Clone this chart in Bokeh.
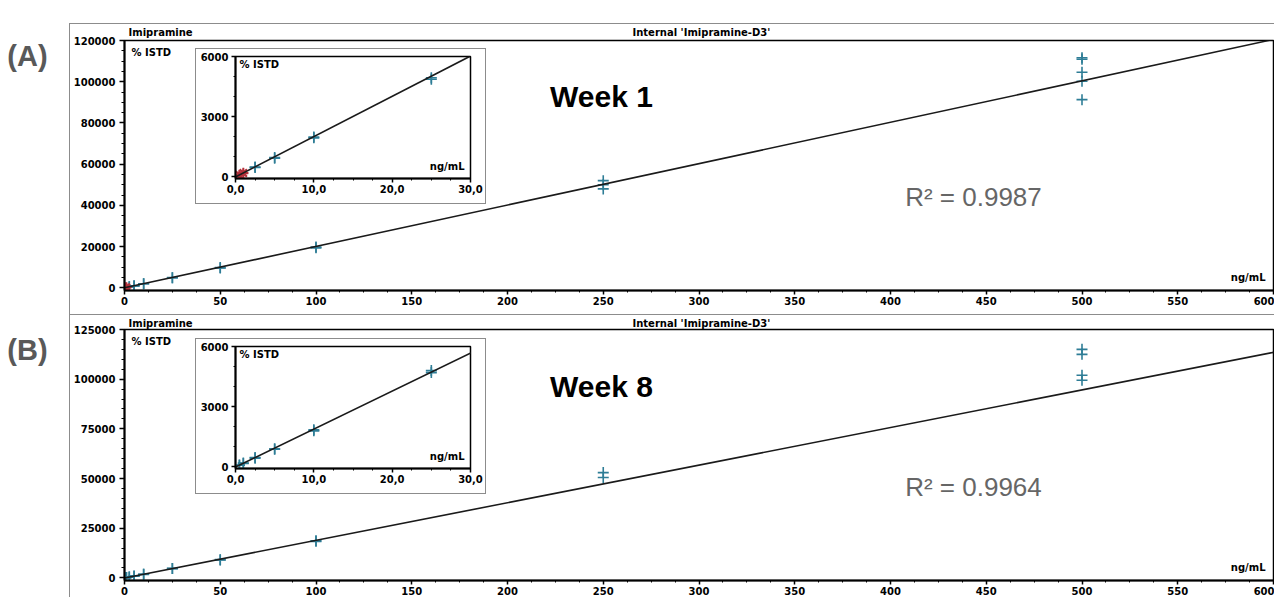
from bokeh.plotting import figure
from bokeh.models import Range1d, FixedTicker, Label
from bokeh.embed import file_html
from bokeh.resources import INLINE

# ---------------- data ----------------
analyte = "Imipramine"
internal_std = "Internal 'Imipramine-D3'"
y_title = "% ISTD"
x_unit = "ng/mL"
panel_tags = ["(A)", "(B)"]
week_names = ["Week 1", "Week 8"]
r2_texts = ["R\u00b2 = 0.9987", "R\u00b2 = 0.9964"]

x_ticks = [0, 50, 100, 150, 200, 250, 300, 350, 400, 450, 500, 550, 600]
x_tick_labels = ["0", "50", "100", "150", "200", "250", "300", "350", "400", "450", "500", "550", "600"]
w1_y_ticks = [0, 20000, 40000, 60000, 80000, 100000, 120000]
w1_y_tick_labels = ["0", "20000", "40000", "60000", "80000", "100000", "120000"]
w8_y_ticks = [0, 25000, 50000, 75000, 100000, 125000]
w8_y_tick_labels = ["0", "25000", "50000", "75000", "100000", "125000"]
inset_x_ticks = [0, 10, 20, 30]
inset_x_tick_labels = ["0,0", "10,0", "20,0", "30,0"]
inset_y_ticks = [0, 3000, 6000]
inset_y_tick_labels = ["0", "3000", "6000"]

# Week 1 calibration standards (accepted = blue, flagged = red)
w1_conc = [2.5, 2.5, 5, 5, 10, 10, 25, 25, 50, 50, 100, 100,
           250, 250, 250, 500, 500, 500, 500, 500]
w1_resp = [470, 495, 930, 965, 1950, 1990, 4870, 4940, 9600, 9800, 19400, 19800,
           52000, 50000, 48000, 111600, 110900, 104600, 100200, 91300]
w1_flag_conc = [0.5, 0.5, 1, 1]
w1_flag_resp = [90, 110, 180, 210]
w1_fit_x = [0, 600]
w1_fit_y = [0, 120500]

# Week 8 calibration standards
w8_conc = [0.5, 0.5, 1, 1, 2.5, 2.5, 5, 5, 10, 10, 25, 25, 50, 50, 100, 100,
           250, 250, 500, 500, 500, 500]
w8_resp = [90, 100, 180, 200, 440, 470, 880, 910, 1800, 1850, 4700, 4800, 9000, 9200,
           18400, 18700, 53000, 50500, 115000, 112500, 102000, 99500]
w8_flag_conc = []
w8_flag_resp = []
w8_fit_x = [0, 600]
w8_fit_y = [0, 113500]

# ---------------- style ----------------
BLUE = "#2e7d96"
RED = "#b3303a"
GRAY_BORDER = "#8c8c8c"
PIX_FONT = "DejaVu Sans"


def pos(left, top, extra=None):
    s = {"position": "absolute", "left": f"{left}px", "top": f"{top}px"}
    if extra:
        s.update(extra)
    return s


def add_label(p, x, y, text, size, bold=True, color="black", align="left", font=PIX_FONT):
    p.add_layout(Label(x=x, y=y, x_units="screen", y_units="screen", text=text,
                       text_font=font, text_font_size=size,
                       text_font_style="bold" if bold else "normal",
                       text_color=color, text_align=align, text_baseline="middle"))


def style_axes(p, xt, xl, xminor, yt, yl, yminor, tick_out, standoff):
    p.xaxis.ticker = FixedTicker(ticks=xt, minor_ticks=xminor)
    p.xaxis.major_label_overrides = dict(zip(xt, xl))
    p.yaxis.ticker = FixedTicker(ticks=yt, minor_ticks=yminor)
    p.yaxis.major_label_overrides = dict(zip(yt, yl))
    for ax in p.axis:
        ax.axis_line_width = 2
        ax.axis_line_color = "black"
        ax.major_tick_out = tick_out
        ax.major_tick_in = 0
        ax.minor_tick_out = max(2, tick_out - 2)
        ax.minor_tick_in = 0
        ax.major_tick_line_width = 1.5
        ax.minor_tick_line_width = 1
        ax.major_label_standoff = standoff
        ax.major_label_text_font = PIX_FONT
        ax.major_label_text_font_style = "bold"
        ax.major_label_text_font_size = "10px"
        ax.major_label_text_color = "black"


def draw_data(p, conc, resp, fconc, fresp, fit_x, fit_y):
    p.scatter(conc, resp, marker="cross", size=11, line_width=1.6, color=BLUE)
    if fconc:
        p.scatter(fconc, fresp, marker="asterisk", size=10, line_width=1.8, color=RED)
    p.line(fit_x, fit_y, line_color="#1a1a1a", line_width=1.6)


def main_panel(left, top, frame_h, bt, bb, y_end, yt, yl, conc, resp, fconc, fresp,
               fit_x, fit_y, week, r2, borders):
    p = figure(frame_width=1149, frame_height=frame_h,
               x_range=Range1d(0, 600), y_range=Range1d(-1300, y_end),
               output_backend="svg", toolbar_location=None,
               min_border_left=54, min_border_right=1,
               min_border_top=bt, min_border_bottom=bb,
               background_fill_color="white", border_fill_color="white",
               outline_line_color="black", outline_line_width=1.5,
               styles=pos(left, top, borders))
    p.grid.visible = False
    style_axes(p, x_ticks, x_tick_labels, [12.5 * i for i in range(49)],
               yt, yl, [5000 * i for i in range(26) if 5000 * i <= y_end], 5, 4)
    p.xaxis.major_tick_out = 4
    p.xaxis.minor_tick_out = 2
    p.xaxis.major_label_standoff = 2
    draw_data(p, conc, resp, fconc, fresp, fit_x, fit_y)
    add_label(p, 7, frame_h - 12, y_title, "10px")
    add_label(p, 1141, 13, x_unit, "10px", align="right")
    add_label(p, 477, 194, week, "30px", font="Liberation Sans", align="center")
    add_label(p, 849, 94, r2, "26px", bold=False, color="#666666",
              font="Liberation Sans", align="center")
    return p


def header_panel(left, top, height):
    # transparent strip over the top border of a main panel, carrying its headers
    p = figure(width=700, height=height, output_backend="svg", toolbar_location=None,
               x_axis_location=None, y_axis_location=None, min_border=0,
               outline_line_color=None, background_fill_alpha=0, border_fill_alpha=0,
               styles=pos(left, top))
    p.grid.visible = False
    add_label(p, 3, height - 8, analyte, "10px")
    add_label(p, 507, height - 8, internal_std, "10px")
    return p


def inset_panel(left, top, conc, resp, fconc, fresp, fit_x, fit_y):
    p = figure(frame_width=235, frame_height=122,
               x_range=Range1d(0, 30), y_range=Range1d(-75, 6000),
               output_backend="svg", toolbar_location=None,
               min_border_left=39, min_border_right=15,
               min_border_top=7, min_border_bottom=25,
               background_fill_color="white", border_fill_color="white",
               outline_line_color="black", outline_line_width=1.5,
               styles=pos(left, top, {"border": f"1px solid {GRAY_BORDER}"}))
    p.grid.visible = False
    style_axes(p, inset_x_ticks, inset_x_tick_labels, [2.5 * i for i in range(13)],
               inset_y_ticks, inset_y_tick_labels, [1000 * i for i in range(7)], 4, 3)
    p.xaxis.major_label_standoff = 2
    draw_data(p, conc, resp, fconc, fresp, fit_x, fit_y)
    add_label(p, 4, 114, y_title, "10px")
    add_label(p, 229, 12, x_unit, "10px", align="right")
    return p


def tag_panel(top, text):
    p = figure(width=60, height=40, output_backend="svg", toolbar_location=None,
               x_axis_location=None, y_axis_location=None, min_border=0,
               outline_line_color=None, background_fill_color="white",
               border_fill_color="white", styles=pos(0, top))
    p.grid.visible = False
    add_label(p, 27, 20, text, "29px", color="#595959", font="Liberation Sans", align="center")
    return p


bline = f"1px solid {GRAY_BORDER}"
mainA = main_panel(69, 23, 250, 16, 24, 120000, w1_y_ticks, w1_y_tick_labels,
                   w1_conc, w1_resp, w1_flag_conc, w1_flag_resp, w1_fit_x, w1_fit_y,
                   week_names[0], r2_texts[0],
                   {"border-top": bline, "border-left": bline, "border-bottom": bline})
mainB = main_panel(69, 315, 251, 14, 17, 125000, w8_y_ticks, w8_y_tick_labels,
                   w8_conc, w8_resp, w8_flag_conc, w8_flag_resp, w8_fit_x, w8_fit_y,
                   week_names[1], r2_texts[1], {"border-left": bline})
headA = header_panel(125, 24, 16)
headB = header_panel(125, 315, 14)
insetA = inset_panel(195, 48, w1_conc, w1_resp, w1_flag_conc, w1_flag_resp, w1_fit_x, w1_fit_y)
insetB = inset_panel(195, 338, w8_conc, w8_resp, w8_flag_conc, w8_flag_resp, w8_fit_x, w8_fit_y)
tagA = tag_panel(35, panel_tags[0])
tagB = tag_panel(329, panel_tags[1])

roots = [mainA, mainB, headA, headB, insetA, insetB, tagA, tagB]
open("out.html", "w").write(file_html(roots, INLINE, title="Imipramine calibration"))
